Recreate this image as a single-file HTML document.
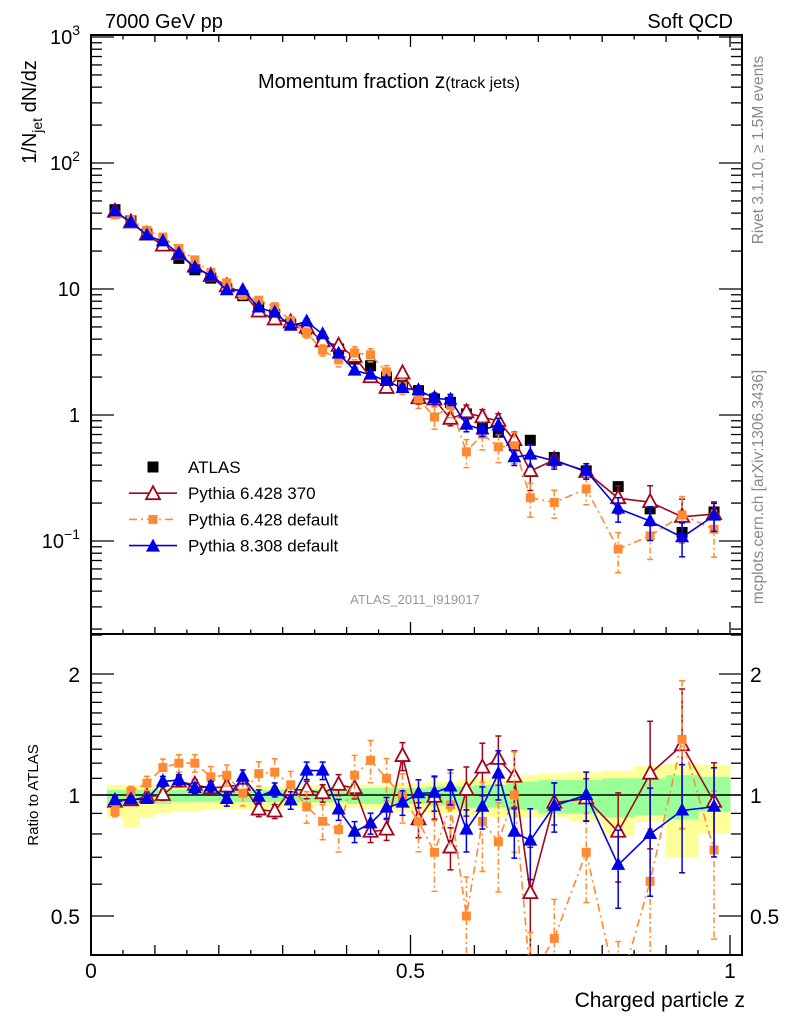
<!DOCTYPE html>
<html><head><meta charset="utf-8"><style>
html,body{margin:0;padding:0;background:#fff;}
svg{display:block;font-family:"Liberation Sans",sans-serif;}
</style></head><body>
<svg id="chart" width="786" height="1024" viewBox="0 0 786 1024" xmlns="http://www.w3.org/2000/svg">
<defs>
<clipPath id="clipMain"><rect x="91" y="35" width="651" height="599"/></clipPath>
<clipPath id="clipRatio"><rect x="91" y="634" width="651" height="321"/></clipPath>
</defs>
<g id="bands" clip-path="url(#clipRatio)"></g>
<g id="axes"></g>
<g id="ratioMarks" clip-path="url(#clipRatio)"></g>
<g id="mainMarks" clip-path="url(#clipMain)"></g>
<text x="105" y="28" font-size="20">7000 GeV pp</text>
<text x="733" y="28" font-size="20" text-anchor="end">Soft QCD</text>
<text x="258" y="88" font-size="20">Momentum fraction <tspan font-size="21">z</tspan><tspan font-size="16">(track jets)</tspan></text>
<text transform="translate(36,112) rotate(-90)" font-size="20" text-anchor="middle">1/N<tspan font-size="14" dy="6">jet</tspan><tspan dy="-6"> dN/dz</tspan></text>
<text transform="translate(763,150) rotate(-90)" font-size="15.5" fill="#888" text-anchor="middle">Rivet 3.1.10, ≥ 1.5M events</text>
<text transform="translate(763,487) rotate(-90)" font-size="15.5" fill="#888" text-anchor="middle">mcplots.cern.ch [arXiv:1306.3436]</text>
<text x="415" y="604" font-size="13" fill="#999" text-anchor="middle">ATLAS_2011_I919017</text>
<text transform="translate(38,795) rotate(-90)" font-size="15" text-anchor="middle">Ratio to ATLAS</text>
<text x="745" y="1007" font-size="21" text-anchor="end">Charged particle z</text>
<g id="legend"></g>
</svg>
<script>
const binCenters=[0.0375,0.0625,0.0875,0.1125,0.1375,0.1625,0.1875,0.2125,0.2375,0.2625,0.2875,0.3125,0.3375,0.3625,0.3875,0.4125,0.4375,0.4625,0.4875,0.5125,0.5375,0.5625,0.5875,0.6125,0.6375,0.6625,0.6875,0.725,0.775,0.825,0.875,0.925,0.975];
const atlasValues=[42.6,34.8,27.3,22.1,17.5,14.2,12.2,10.0,8.85,7.2,6.3,5.27,4.8,3.8,3.34,2.78,2.46,2.0,1.71,1.56,1.34,1.26,1.02,0.82,0.73,0.57,0.63,0.46,0.36,0.27,0.18,0.117,0.17];
const ratioP6_370=[0.962,0.97,0.99,1.0,1.08,1.06,1.04,1.05,1.06,0.92,0.91,1.03,1.03,1.01,1.06,1.04,0.81,0.82,1.25,0.87,0.99,0.74,1.03,1.17,1.23,1.11,0.57,0.957,0.98,0.81,1.13,1.33,0.962];
const ratioP6_def=[0.91,1.02,1.07,1.17,1.2,1.2,1.11,1.12,1.01,1.13,1.14,1.06,0.935,0.86,0.82,1.12,1.22,1.1,0.99,0.86,0.72,0.945,0.5,0.86,0.765,1.0,0.35,0.44,0.72,0.32,0.61,1.375,0.73];
const ratioP8_def=[0.97,0.975,0.977,1.08,1.09,1.04,1.05,0.977,1.11,0.99,1.03,0.97,1.15,1.15,0.92,0.81,0.85,0.93,0.957,1.01,1.013,1.05,0.82,0.935,1.13,0.81,0.77,0.94,1.0,0.67,0.8,0.915,0.935];
const errP6_370=[0.02,0.02,0.02,0.03,0.03,0.03,0.03,0.04,0.04,0.04,0.04,0.04,0.05,0.05,0.06,0.06,0.06,0.06,0.08,0.1,0.12,0.12,0.14,0.15,0.14,0.16,0.3,0.12,0.12,0.25,0.35,0.38,0.25];
const errP6_def=[0.03,0.03,0.04,0.05,0.05,0.05,0.06,0.06,0.07,0.07,0.08,0.08,0.09,0.1,0.12,0.12,0.12,0.12,0.14,0.16,0.2,0.2,0.25,0.25,0.25,0.28,0.3,0.25,0.25,0.35,0.35,0.4,0.4];
const errP8_def=[0.02,0.02,0.02,0.03,0.03,0.03,0.03,0.04,0.04,0.04,0.04,0.05,0.05,0.05,0.06,0.06,0.06,0.06,0.07,0.08,0.1,0.1,0.12,0.12,0.14,0.14,0.2,0.14,0.14,0.22,0.3,0.3,0.25];
const bandYellowHi=[1.06,1.06,1.06,1.06,1.05,1.05,1.05,1.05,1.05,1.05,1.05,1.05,1.05,1.06,1.06,1.06,1.06,1.06,1.07,1.07,1.08,1.08,1.09,1.1,1.1,1.11,1.12,1.13,1.14,1.15,1.18,1.2,1.19];
const bandYellowLo=[0.88,0.83,0.88,0.9,0.91,0.91,0.92,0.92,0.92,0.92,0.93,0.93,0.93,0.94,0.93,0.93,0.92,0.92,0.91,0.91,0.9,0.9,0.89,0.89,0.88,0.88,0.88,0.88,0.86,0.79,0.86,0.7,0.8];
const bandGreenHi=[1.03,1.03,1.03,1.03,1.03,1.03,1.03,1.03,1.03,1.03,1.03,1.03,1.03,1.03,1.03,1.04,1.04,1.04,1.04,1.04,1.05,1.05,1.05,1.06,1.06,1.07,1.08,1.09,1.09,1.1,1.1,1.12,1.11];
const bandGreenLo=[0.94,0.94,0.95,0.95,0.96,0.96,0.96,0.96,0.96,0.96,0.96,0.96,0.96,0.96,0.96,0.95,0.95,0.95,0.95,0.95,0.94,0.94,0.93,0.93,0.93,0.92,0.92,0.9,0.9,0.88,0.89,0.87,0.91];
const mainTickLabels=["10^3","10^2","10","1","10^-1"];
const ratioTickLabels=["2","1","0.5"];
const xTickLabels=["0","0.5","1"];

const NS="http://www.w3.org/2000/svg";
const X0=91,X1=742,MT=35,MB=634,RT=634,RB=955;
function xPos(v){return 91+v*639;}
function yMain(v){return 415-126*Math.log10(v);}
function yRatio(r){return 795-121*Math.log2(r);}
function mk(tag,attrs,parent){const e=document.createElementNS(NS,tag);for(const k in attrs)e.setAttribute(k,attrs[k]);parent.appendChild(e);return e;}
function binEdges(i){const c=binCenters[i];const w=c<0.7?0.025:0.05;return [c-w/2,c+w/2];}

const bands=document.getElementById('bands');
for(let i=0;i<binCenters.length;i++){
  const [a,b]=binEdges(i);
  const y=mk('rect',{x:xPos(a),y:yRatio(bandYellowHi[i]),width:xPos(b)-xPos(a)+0.5,height:yRatio(bandYellowLo[i])-yRatio(bandYellowHi[i]),fill:'#ffff99'},bands);
  
  
}
for(let i=0;i<binCenters.length;i++){
  const [a,b]=binEdges(i);
  const g=mk('rect',{x:xPos(a),y:yRatio(bandGreenHi[i]),width:xPos(b)-xPos(a)+0.5,height:yRatio(bandGreenLo[i])-yRatio(bandGreenHi[i]),fill:'#99ff99'},bands);
  
  
}

const ax=document.getElementById('axes');
mk('rect',{x:X0,y:MT,width:X1-X0,height:MB-MT,fill:'none',stroke:'#000','stroke-width':2},ax);
mk('rect',{x:X0,y:RT,width:X1-X0,height:RB-RT,fill:'none',stroke:'#000','stroke-width':2},ax);
mk('line',{x1:X0,x2:X1,y1:yRatio(1),y2:yRatio(1),stroke:'#000','stroke-width':1.5},ax);
for(let d=-2;d<=3;d++){
  for(let m=1;m<10;m++){
    const v=m*Math.pow(10,d);const y=yMain(v);
    if(y<MT||y>MB)continue;
    const L=m===1?23:11;
    mk('line',{x1:X0,x2:X0+L,y1:y,y2:y,stroke:'#000','stroke-width':1.3},ax);
    mk('line',{x1:X1,x2:X1-L,y1:y,y2:y,stroke:'#000','stroke-width':1.3},ax);
  }
}
const decs=[3,2,1,0,-1];
decs.forEach((d,i)=>{
  const y=yMain(Math.pow(10,d));
  const t=mk('text',{x:80,y:y+7,'font-size':20,'text-anchor':'end'},ax);
  
  
  const lab=mainTickLabels[i];
  if(lab.indexOf('^')>=0){const p=lab.split('^');t.textContent=p[0];const s=mk('tspan',{'font-size':14,dy:-9},t);s.textContent=p[1].replace('-','−');}
  else t.textContent=lab;
});
for(let k=0;k<=20;k++){
  const v=k*0.05;const x=xPos(v);
  const L=(k%10===0)?20:(k%2===0?10:5);
  mk('line',{x1:x,x2:x,y1:MT,y2:MT+L/2+2,stroke:'#000','stroke-width':1.3},ax);
  mk('line',{x1:x,x2:x,y1:MB,y2:MB-L/2-2,stroke:'#000','stroke-width':1.3},ax);
  mk('line',{x1:x,x2:x,y1:RB,y2:RB-L,stroke:'#000','stroke-width':1.3},ax);
}
[0,0.5,1].forEach((v,i)=>{
  const t=mk('text',{x:xPos(v),y:978,'font-size':21,'text-anchor':'middle'},ax);
  
  
  t.textContent=xTickLabels[i];
});
const rticks=[0.4,0.5,0.6,0.7,0.8,0.9,1,1.1,1.2,1.3,1.4,1.5,1.6,1.7,1.8,1.9,2,2.5];
rticks.forEach(r=>{
  const y=yRatio(r);if(y<RT||y>RB)return;
  const L=(r===0.5||r===1||r===2)?23:11;
  mk('line',{x1:X0,x2:X0+L,y1:y,y2:y,stroke:'#000','stroke-width':1.3},ax);
  mk('line',{x1:X1,x2:X1-L,y1:y,y2:y,stroke:'#000','stroke-width':1.3},ax);
});
[2,1,0.5].forEach((r,i)=>{
  const y=yRatio(r)+8;
  const t=mk('text',{x:80,y:y,'font-size':21,'text-anchor':'end'},ax);
  
  
  t.textContent=ratioTickLabels[i];
  const t2=mk('text',{x:750,y:y,'font-size':21},ax);
  
  
  t2.textContent=ratioTickLabels[i];
});

const series=[
  {name:'pythia-6428-370',ratio:ratioP6_370,err:errP6_370,color:'#a0061c',dash:'',marker:'opentri'},
  {name:'pythia-6428-default',ratio:ratioP6_def,err:errP6_def,color:'#ff8a33',dash:'8,4,2,4',marker:'sq'},
  {name:'pythia-8308-default',ratio:ratioP8_def,err:errP8_def,color:'#0000e6',dash:'',marker:'tri'}
];
function marker(kind,x,y,color,parent){
  if(kind==='opentri') return mk('polygon',{points:`${x},${y-8} ${x-7},${y+5} ${x+7},${y+5}`,fill:'#fff',stroke:color,'stroke-width':1.8},parent);
  if(kind==='tri') return mk('polygon',{points:`${x},${y-8} ${x-7},${y+5} ${x+7},${y+5}`,fill:color},parent);
  if(kind==='sq') return mk('rect',{x:x-4.5,y:y-4.5,width:9,height:9,fill:color},parent);
  return mk('rect',{x:x-5.5,y:y-5.5,width:11,height:11,fill:'#000'},parent);
}
function drawSeries(parent,yf,valFn,errFn,s){
  const g=mk('g',{},parent);
  
  
  let pts=binCenters.map((c,i)=>xPos(c)+','+yf(valFn(i)));
  mk('polyline',{points:pts.join(' '),fill:'none',stroke:s.color,'stroke-width':1.6,'stroke-dasharray':s.dash},g);
  binCenters.forEach((c,i)=>{
    const v=valFn(i),e=errFn(i);const x=xPos(c);
    const y1=yf(v*(1+e)),y2=yf(Math.max(v*(1-e),1e-4));
    mk('line',{x1:x,x2:x,y1:y1,y2:y2,stroke:s.color,'stroke-width':1.5,'stroke-dasharray':s.dash?'6,3,2,3':''},g);
    mk('line',{x1:x-3,x2:x+3,y1:y1,y2:y1,stroke:s.color,'stroke-width':1.5},g);
    mk('line',{x1:x-3,x2:x+3,y1:y2,y2:y2,stroke:s.color,'stroke-width':1.5},g);
    const m=marker(s.marker,x,yf(v),s.color,g);
    
    
  });
}
const mainG=document.getElementById('mainMarks');
const ratioG=document.getElementById('ratioMarks');
const atl=mk('g',{},mainG);


binCenters.forEach((c,i)=>{
  const m=marker('data',xPos(c),yMain(atlasValues[i]),'#000',atl);
  
  
});
series.forEach(s=>{
  drawSeries(mainG,yMain,i=>atlasValues[i]*s.ratio[i],i=>s.err[i],s);
  drawSeries(ratioG,yRatio,i=>s.ratio[i],i=>s.err[i],s);
});
const lg=document.getElementById('legend');
const legendItems=[{label:'ATLAS',marker:'data',color:'#000',dash:null},{label:'Pythia 6.428 370',marker:'opentri',color:'#a0061c',dash:''},{label:'Pythia 6.428 default',marker:'sq',color:'#ff8a33',dash:'8,4,2,4'},{label:'Pythia 8.308 default',marker:'tri',color:'#0000e6',dash:''}];
legendItems.forEach((it,i)=>{
  const y=467+i*26.2;
  const g=mk('g',{},lg);
  
  
  if(it.dash!==null) mk('line',{x1:129,x2:177,y1:y,y2:y,stroke:it.color,'stroke-width':1.6,'stroke-dasharray':it.dash},g);
  marker(it.marker,153,y+(it.marker.indexOf('tri')>=0?1:0),it.color,g);
  const t=mk('text',{x:188,y:y+6,'font-size':17},g);
  t.textContent=it.label;
});
</script>
</body></html>
